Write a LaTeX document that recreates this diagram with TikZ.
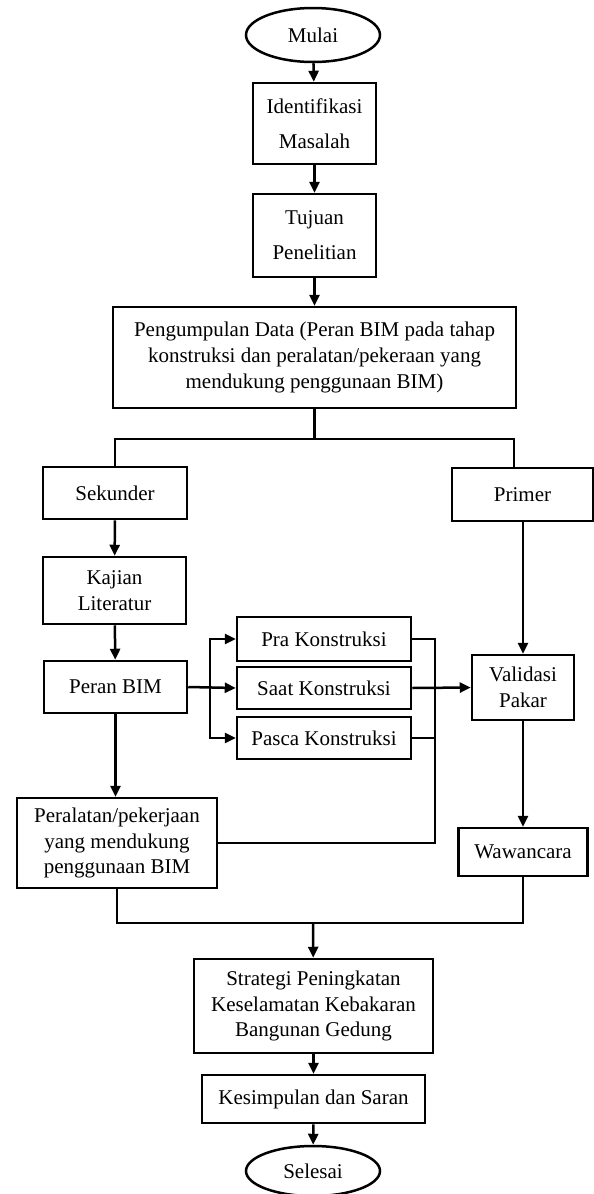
\documentclass[tikz,border=0pt]{standalone}
\usepackage{fontspec}
\setmainfont{Liberation Serif}
\usetikzlibrary{shapes.geometric,arrows.meta}
\newcommand\forkx{210}
\newcommand\joinx{435}
\newcommand\splity{439}
\newcommand\mergey{923}

\begin{document}
\begin{tikzpicture}[x=1pt, y=-1pt,
	conn/.style={draw=black, line width=2.5pt},
	flow/.style={conn, -{Triangle[length=11pt, width=10pt]}},
	box/.style={draw=black, line width=2.5pt, rectangle, align=center, inner sep=0pt, font=\fontsize{21}{25.5}\selectfont},
	term/.style={box, ellipse}]
		\useasboundingbox (0,0) rectangle (594,1194);

		\node[term, minimum width=134pt, minimum height=54pt] (mulai) at (313,35) {Mulai};
		\node[box, minimum width=123pt, minimum height=81pt, font=\fontsize{21}{35}\selectfont] (ident) at (314.5,123.5) {Identifikasi\\Masalah};
		\node[box, minimum width=123pt, minimum height=83pt, font=\fontsize{21}{35}\selectfont] (tujuan) at (314.5,235.5) {Tujuan\\Penelitian};
		\node[box, minimum width=403pt, minimum height=101pt, font=\fontsize{21}{26}\selectfont] (data) at (314.5,357.5) {Pengumpulan Data (Peran BIM pada tahap\\konstruksi dan peralatan/pekeraan yang\\mendukung penggunaan BIM)};

		\node[box, minimum width=144pt, minimum height=52pt] (sek) at (115,493) {Sekunder};
		\node[box, minimum width=141pt, minimum height=53pt] (prim) at (522.5,494.5) {Primer};
		\node[box, minimum width=143pt, minimum height=67pt] (kajian) at (114.5,590.5) {Kajian\\Literatur};
		\node[box, minimum width=143pt, minimum height=52pt] (peran) at (115.5,687) {Peran BIM};

		\node[box, minimum width=174pt, minimum height=44pt] (pra) at (324,639) {Pra Konstruksi};
		\node[box, minimum width=174pt, minimum height=42pt] (saat) at (324,688) {Saat Konstruksi};
		\node[box, minimum width=174pt, minimum height=42pt] (pasca) at (324,738) {Pasca Konstruksi};

		\node[box, minimum width=102pt, minimum height=65pt] (valid) at (523,687.5) {Validasi\\Pakar};
		\node[box, minimum width=129pt, minimum height=48pt] (wawan) at (523,852) {Wawancara};
		\node[box, minimum width=200pt, minimum height=90pt] (peral) at (117,843) {Peralatan/pekerjaan\\yang mendukung\\penggunaan BIM};

		\node[box, minimum width=239pt, minimum height=94pt] (strat) at (313.5,1006) {Strategi Peningkatan\\Keselamatan Kebakaran\\Bangunan Gedung};
		\node[box, minimum width=223pt, minimum height=48pt] (kes) at (313.5,1099) {Kesimpulan dan Saran};
		\node[term, minimum width=134pt, minimum height=50pt] (selesai) at (313,1171) {Selesai};

		\coordinate (splitR) at (514,\splity);
		\coordinate (fork) at (\forkx,688);
		\coordinate (join) at (\joinx,843);
		\coordinate (merge) at (313,\mergey);

		\draw[flow] (mulai) -- (ident);
		\draw[flow] (ident) -- (tujuan);
		\draw[flow] (tujuan) -- (data);

		% split to sekunder and primer
		\draw[conn] (data.south) -- (data.south |- splitR);
		\draw[conn] (sek.north) |- (splitR) -- (splitR |- prim.north);

		\draw[flow] (sek) -- (kajian);
		\draw[flow] (kajian) -- (peran);
		\draw[flow] (peran.south) -- (peran.south |- peral.north);

		\draw[flow] (peran.east) -- (saat.west);
		\draw[flow] (fork) |- (pra.west);
		\draw[flow] (fork) |- (pasca.west);

		\draw[conn] (pra.east) -| (join) -- (peral.east);
		\draw[conn] (pasca.east) -- (pasca.east -| join);
		\draw[flow] (saat.east) -- (valid.west);

		\draw[flow] (valid.north |- prim.south) -- (valid.north);
		\draw[flow] (valid) -- (wawan);

		% merge into strategi
		\draw[conn] (peral.south) |- (merge) -| (wawan.south);
		\draw[flow] (merge) -- (strat);
		\draw[flow] (strat) -- (kes);
		\draw[flow] (kes) -- (selesai);
	\end{tikzpicture}
\end{document}
